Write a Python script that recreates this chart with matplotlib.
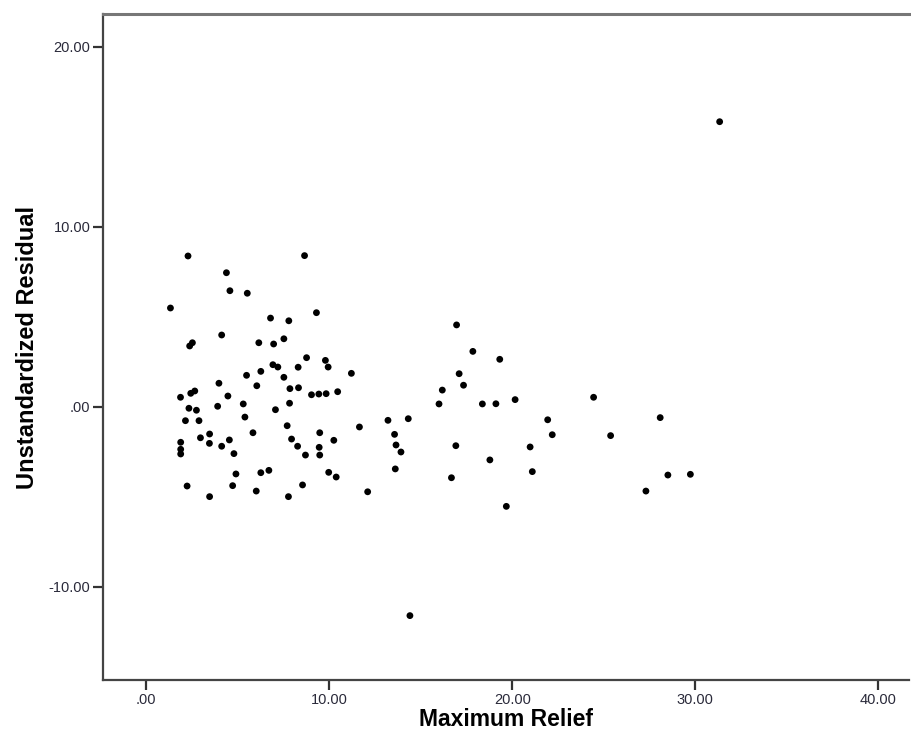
import matplotlib
matplotlib.use("Agg")
import matplotlib.pyplot as plt
from matplotlib.ticker import FixedLocator, FuncFormatter

# -------------------------
# Datos
# -------------------------
max_relief = [
    2.28, 8.65, 4.38, 4.57, 5.52, 1.32, 9.30, 6.79, 7.79, 4.12,
    2.52, 2.37, 6.15, 6.96, 7.52, 8.76, 9.79, 9.94, 6.92, 7.19,
    8.30, 6.26, 11.21, 5.48, 7.52, 3.97, 6.04, 7.85, 8.32, 10.46,
    9.03, 9.43, 9.83, 2.43, 2.65, 1.87, 4.46, 3.90, 5.30, 2.33,
    2.74, 7.83, 7.06, 2.14, 2.88, 5.39, 7.70, 11.65, 5.83, 9.48,
    3.46, 2.96, 1.88, 1.88, 1.88, 3.45, 4.54, 4.12, 7.94, 10.25,
    8.27, 9.45, 4.79, 8.70, 9.48, 4.90, 6.26, 6.70, 9.97, 10.38,
    2.23, 4.72, 8.54, 3.46, 6.01, 7.77, 13.21, 14.32, 13.57, 13.65,
    13.92, 13.61, 12.10, 16.96, 17.85, 19.32, 17.10, 17.34, 16.18, 16.00,
    18.37, 19.11, 20.16, 16.92, 16.68, 18.78, 19.68, 21.94, 22.19, 20.98,
    21.10, 24.45, 25.38, 28.09, 28.51, 29.74, 27.31, 31.34, 14.41,
]
residual = [
    8.39, 8.41, 7.46, 6.46, 6.32, 5.50, 5.24, 4.94, 4.79, 4.00,
    3.57, 3.39, 3.57, 3.50, 3.79, 2.74, 2.59, 2.22, 2.35, 2.22,
    2.21, 1.98, 1.87, 1.76, 1.65, 1.32, 1.18, 1.02, 1.07, 0.85,
    0.68, 0.72, 0.74, 0.76, 0.89, 0.54, 0.61, 0.04, 0.17, -0.07,
    -0.18, 0.21, -0.15, -0.76, -0.76, -0.56, -1.04, -1.11, -1.43, -1.43,
    -1.50, -1.71, -1.96, -2.35, -2.61, -2.02, -1.83, -2.18, -1.78, -1.85,
    -2.18, -2.24, -2.59, -2.67, -2.67, -3.72, -3.65, -3.52, -3.63, -3.89,
    -4.39, -4.37, -4.33, -4.98, -4.67, -4.98, -0.74, -0.65, -1.52, -2.11,
    -2.50, -3.44, -4.71, 4.56, 3.09, 2.65, 1.85, 1.21, 0.94, 0.17,
    0.17, 0.18, 0.41, -2.15, -3.93, -2.94, -5.52, -0.71, -1.54, -2.22,
    -3.59, 0.54, -1.59, -0.59, -3.78, -3.74, -4.67, 15.85, -11.59,
]

x_ticks = [0, 10, 20, 30, 40]
y_ticks = [-10, 0, 10, 20]


def spss_fmt(v, pos):
    # estilo SPSS: ".00" en vez de "0.00"
    s = f"{v:.2f}"
    if s.startswith("0."):
        s = s[1:]
    return s


plt.rcParams["font.family"] = ["Liberation Sans", "DejaVu Sans"]

fig = plt.figure(figsize=(9.11, 7.40), dpi=100)
ax = fig.add_axes([0.113, 0.081, 0.885, 0.900])

ax.scatter(max_relief, residual, s=24, color="black", edgecolors="none", zorder=3)

ax.set_xlim(-2.37, 41.7)
ax.set_ylim(-15.17, 21.83)

ax.xaxis.set_major_locator(FixedLocator(x_ticks))
ax.yaxis.set_major_locator(FixedLocator(y_ticks))
ax.xaxis.set_major_formatter(FuncFormatter(spss_fmt))
ax.yaxis.set_major_formatter(FuncFormatter(spss_fmt))

ax.tick_params(axis="both", direction="out", length=7, width=1.6,
               color="#333333", labelsize=10.5, labelcolor="#2a2a3a", pad=2)

for side in ["left", "bottom", "top"]:
    ax.spines[side].set_color("#444444")
    ax.spines[side].set_linewidth(1.6)
ax.spines["top"].set_color("#777777")
ax.spines["top"].set_linewidth(2.2)
ax.spines["right"].set_visible(False)

ax.set_xlabel("Maximum Relief", fontsize=16.5, fontweight="bold", labelpad=1)
ax.set_ylabel("Unstandardized Residual", fontsize=17, fontweight="bold", labelpad=7)

fig.savefig("out.png", dpi=100)
